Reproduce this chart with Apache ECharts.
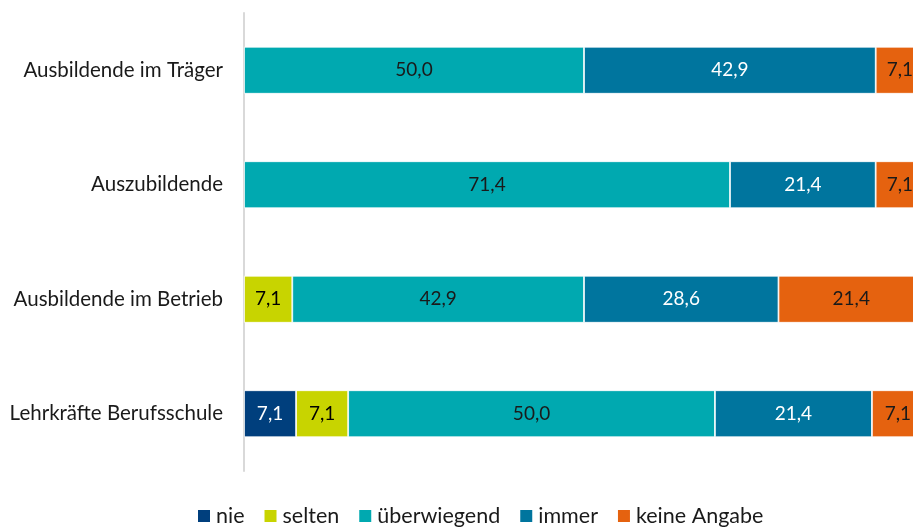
<!DOCTYPE html>
<html><head><meta charset="utf-8">
<script src="https://cdn.jsdelivr.net/npm/echarts@6/dist/echarts.min.js"></script>
<style>html,body{margin:0;padding:0;background:#fff}#c{width:913px;height:530px}</style>
</head><body><div id="c"></div>
<script>
const categories = ["Ausbildende im Träger", "Auszubildende", "Ausbildende im Betrieb", "Lehrkräfte Berufsschule"];
const seriesNames = ["nie", "selten", "überwiegend", "immer", "keine Angabe"];
const nie = [null, null, null, 7.1];
const selten = [null, null, 7.1, 7.1];
const ueberwiegend = [50.0, 71.4, 42.9, 50.0];
const immer = [42.9, 21.4, 28.6, 21.4];
const keineAngabe = [7.1, 7.1, 21.4, 7.1];
const colors = ["#003f7d", "#c8d400", "#00a9b0", "#00759e", "#e5620f"];
const labelColors = ["#ffffff", "#000000", "#1a1a1a", "#ffffff", "#1a1a1a"];

const raw = [nie, selten, ueberwiegend, immer, keineAngabe];
const totals = categories.map((_, i) => raw.reduce((s, arr) => s + (arr[i] || 0), 0));
const FONT = 'Lato';

const series = raw.map((arr, si) => ({
  name: seriesNames[si],
  type: 'bar',
  stack: 'total',
  barWidth: 47,
  itemStyle: { color: colors[si], borderColor: '#ffffff', borderWidth: 0.8 },
  label: {
    show: true, position: 'inside', fontFamily: FONT, fontSize: 19,
    color: labelColors[si],
    formatter: p => raw[si][p.dataIndex] == null ? '' : raw[si][p.dataIndex].toFixed(1).replace('.', ',')
  },
  data: arr.map((v, i) => v == null ? null : v / totals[i] * 100)
}));

const chart = echarts.init(document.getElementById('c'));
chart.setOption({
  animation: false,
  color: colors,
  grid: { left: 244, top: 13, right: -11, height: 458, containLabel: false, outerBoundsMode: 'none' },
  xAxis: { type: 'value', min: 0, max: 100, show: false },
  yAxis: {
    type: 'category', data: categories, inverse: true,
    axisLine: { show: true, lineStyle: { color: '#d9d9d9', width: 2 } },
    axisTick: { show: false },
    axisLabel: { fontFamily: FONT, fontSize: 20.5, color: '#1a1a1a', margin: 21 }
  },
  legend: {
    bottom: -2, left: 191, icon: 'rect', itemWidth: 14, itemHeight: 14, itemGap: 18,
    textStyle: { fontFamily: FONT, fontSize: 21.5, color: '#1a1a1a' },
    data: seriesNames
  },
  series
});
</script></body></html>
